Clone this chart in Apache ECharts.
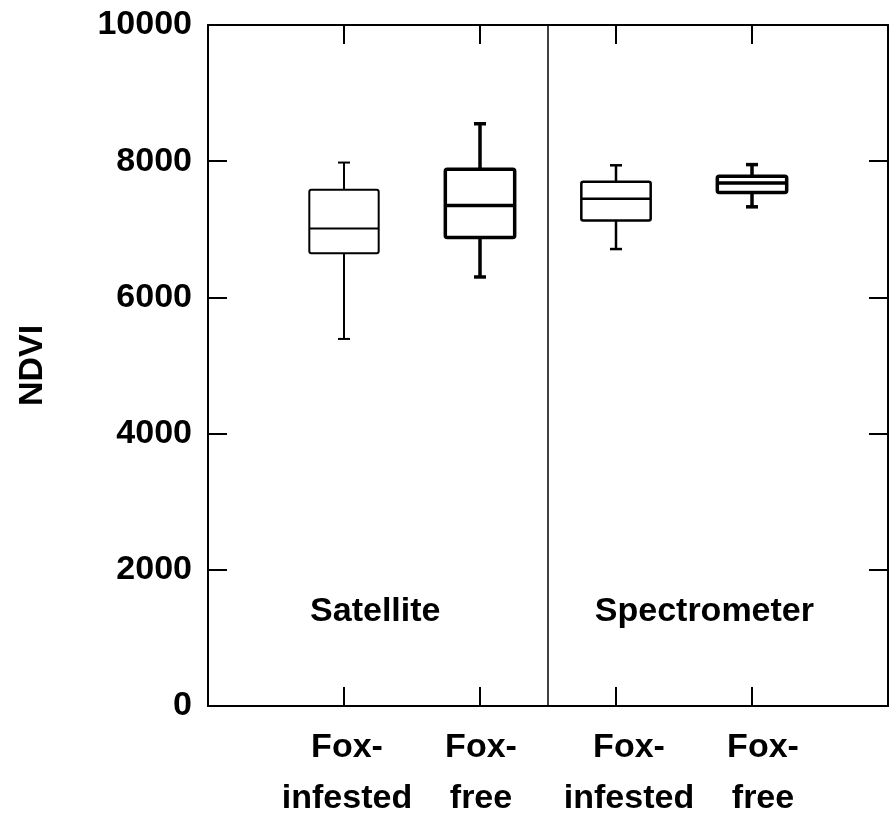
<!DOCTYPE html>
<html>
<head>
<meta charset="utf-8">
<script src="https://cdn.jsdelivr.net/npm/echarts@6/dist/echarts.min.js"></script>
<style>
  html, body { margin: 0; padding: 0; background: #fff; }
  #chart { width: 891px; height: 817px; }
</style>
</head>
<body>
<div id="chart"></div>
<script>
// Category positions along the x axis (0 and 5 are empty padding slots)
const categories = ['', 'Fox-\ninfested', 'Fox-\nfree', 'Fox-\ninfested', 'Fox-\nfree', ''];
const boxX = [1, 2, 3, 4];

// Five-number summaries of NDVI per group
const whiskerLow  = [5390, 6300, 6710, 7330];
const quartile1   = [6650, 6880, 7130, 7540];
const medians     = [7010, 7350, 7450, 7680];
const quartile3   = [7580, 7880, 7700, 7780];
const whiskerHigh = [7980, 8550, 7940, 7950];

// Y axis ticks
const yTicks = [0, 2000, 4000, 6000, 8000, 10000];

// Group annotations (x in axis units, y in NDVI units)
const groupNames = ['Satellite', 'Spectrometer'];
const groupX = [1.23, 3.65];
const groupY = [1380, 1380];

// Divider between the two measurement methods
const dividerX = 2.5;

// Drawing styles per box
const boxLineWidths = [2, 3.5, 2.5, 3.5];
const labelShift = [0, 6, 2, 26, 22, 0];

const boxData = boxX.map((x, i) => [x, whiskerLow[i], quartile1[i], medians[i], quartile3[i], whiskerHigh[i]]);
const noteData = groupNames.map((n, i) => [groupX[i], groupY[i], n]);

const FONT = 'Liberation Sans, Arial, Helvetica, sans-serif';

const richStyles = {};
labelShift.forEach((s, i) => {
  richStyles['c' + i] = {
    fontFamily: FONT, fontWeight: 'bold', fontSize: 34, color: '#000',
    lineHeight: 51, padding: [0, 0, 0, s]
  };
});

function renderBox(params, api) {
  const x = api.value(0);
  const pLo = api.coord([x, api.value(1)]);
  const pQ1 = api.coord([x, api.value(2)]);
  const pMed = api.coord([x, api.value(3)]);
  const pQ3 = api.coord([x, api.value(4)]);
  const pHi = api.coord([x, api.value(5)]);
  const band = api.size([1, 0])[0];
  const half = band * 0.255;
  const cap = 6;
  const cx = pMed[0];
  const lw = boxLineWidths[params.dataIndex];
  const st = { stroke: '#000', lineWidth: lw, fill: null };
  return {
    type: 'group',
    children: [
      { type: 'line', shape: { x1: cx, y1: pHi[1], x2: cx, y2: pQ3[1] }, style: st },
      { type: 'line', shape: { x1: cx, y1: pQ1[1], x2: cx, y2: pLo[1] }, style: st },
      { type: 'line', shape: { x1: cx - cap, y1: pHi[1], x2: cx + cap, y2: pHi[1] }, style: st },
      { type: 'line', shape: { x1: cx - cap, y1: pLo[1], x2: cx + cap, y2: pLo[1] }, style: st },
      { type: 'rect', shape: { x: cx - half, y: pQ3[1], width: 2 * half, height: pQ1[1] - pQ3[1], r: 2 },
        style: { stroke: '#000', lineWidth: lw, fill: '#fff' } },
      { type: 'line', shape: { x1: cx - half, y1: pMed[1], x2: cx + half, y2: pMed[1] }, style: st }
    ]
  };
}

const chart = echarts.init(document.getElementById('chart'), null, { renderer: 'canvas' });

const axisLineStyle = { show: true, onZero: false, lineStyle: { color: '#000', width: 2 } };
const innerTick = { show: true, inside: true, length: 19, lineStyle: { color: '#000', width: 2 } };

chart.setOption({
  backgroundColor: '#fff',
  animation: false,
  grid: { left: 208, right: 3, top: 25, bottom: 111, containLabel: false },
  xAxis: [
    {
      type: 'value', position: 'bottom', min: 0, max: 5, interval: 1,
      axisLine: axisLineStyle, axisTick: innerTick, splitLine: { show: false },
      axisLabel: {
        show: true, margin: 16, interval: 0,
        formatter: v => {
          const i = Math.round(v);
          return categories[i] ? '{c' + i + '|' + categories[i] + '}' : '';
        },
        rich: richStyles
      }
    },
    {
      type: 'value', position: 'top', min: 0, max: 5, interval: 1,
      axisLine: axisLineStyle, axisTick: innerTick, axisLabel: { show: false }, splitLine: { show: false }
    }
  ],
  yAxis: [
    {
      type: 'value', position: 'left', min: yTicks[0], max: yTicks[yTicks.length - 1], interval: 2000,
      axisLine: axisLineStyle, axisTick: innerTick, splitLine: { show: false },
      axisLabel: {
        show: true, margin: 16, fontFamily: FONT, fontWeight: 'bold', fontSize: 34, color: '#000',
        formatter: v => String(v)
      },
      name: 'NDVI', nameLocation: 'middle', nameRotate: 90, nameGap: 158,
      nameTextStyle: { fontFamily: FONT, fontWeight: 'bold', fontSize: 34, color: '#000' }
    },
    {
      type: 'value', position: 'right', min: yTicks[0], max: yTicks[yTicks.length - 1], interval: 2000,
      axisLine: axisLineStyle, axisTick: innerTick, axisLabel: { show: false }, splitLine: { show: false }
    }
  ],
  series: [
    {
      type: 'custom',
      xAxisIndex: 0, yAxisIndex: 0,
      renderItem: renderBox,
      encode: { x: 0, y: [1, 2, 3, 4, 5] },
      data: boxData,
      markLine: {
        silent: true, symbol: 'none', label: { show: false },
        lineStyle: { color: '#000', width: 1.5, type: 'solid' },
        data: [{ xAxis: dividerX }]
      },
      z: 3
    },
    {
      type: 'scatter',
      xAxisIndex: 0, yAxisIndex: 0,
      symbolSize: 0,
      itemStyle: { opacity: 1, color: '#000' },
      data: noteData,
      label: {
        show: true, position: 'inside', formatter: p => p.data[2],
        fontFamily: FONT, fontWeight: 'bold', fontSize: 34, color: '#000', opacity: 1
      },
      silent: true
    }
  ]
});
</script>
</body>
</html>
